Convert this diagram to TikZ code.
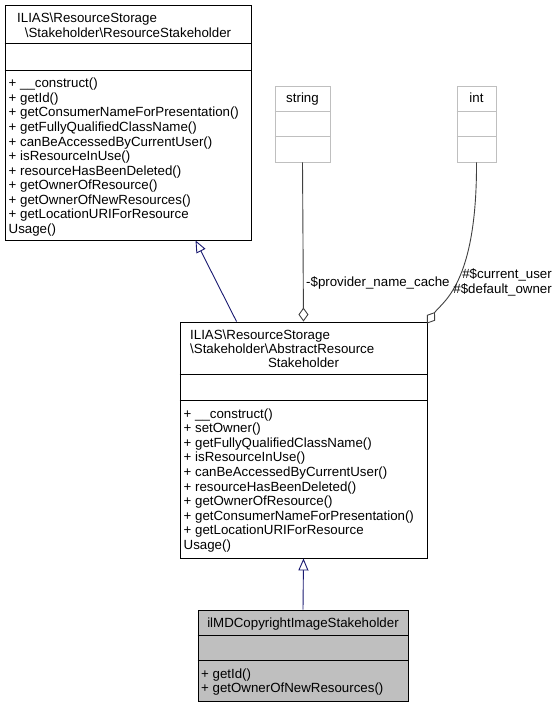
\documentclass[tikz,border=0pt]{standalone}
\usepackage{fontspec}
\setmainfont{Liberation Sans}
\usetikzlibrary{arrows.meta,calc}
\definecolor{navy}{HTML}{191970}
\definecolor{edgegray}{HTML}{404040}
\definecolor{boxgray}{HTML}{BFBFBF}
\definecolor{lightborder}{HTML}{BFBFBF}
\begin{document}
\begin{tikzpicture}[x=1bp,y=-1bp,
  txt/.style={inner sep=0pt, font=\fontsize{13.3bp}{14bp}\selectfont},
  lt/.style={txt, anchor=base west},
  ct/.style={txt, anchor=base},
  rt/.style={txt, anchor=base east},
  cls/.style={draw=black, line width=0.9bp, inner sep=0pt},
  ext/.style={draw=lightborder, line width=0.9bp, inner sep=0pt},
  sec/.style={line width=0.9bp},
  inh/.style={draw=navy, line width=0.9bp, -{Triangle[open, length=12bp, width=10bp, fill=white]}},
  agg/.style={draw=edgegray, line width=0.9bp, -{Diamond[open, length=14bp, width=10bp, fill=white]}}
]
\useasboundingbox (0,0) rectangle (559,707);

% ---- ResourceStakeholder
\node[cls, minimum width=246bp, minimum height=235bp] (b1) at (128,122.5) {};
\draw[sec] ($(b1.north west)+(0,39)$) -- ($(b1.north east)+(0,39)$);
\draw[sec] ($(b1.north west)+(0,66)$) -- ($(b1.north east)+(0,66)$);
\node[lt] (b1t1) at (17,22.8) {ILIAS\textbackslash ResourceStorage};
\node[ct] (b1t2) at (128,37.8) {\textbackslash Stakeholder\textbackslash ResourceStakeholder};
\foreach \t [count=\i from 0] in {+ \_\_construct(), + getId(), + getConsumerNameForPresentation(), + getFullyQualifiedClassName(), + canBeAccessedByCurrentUser(), + isResourceInUse(), + resourceHasBeenDeleted(), + getOwnerOfResource(), + getOwnerOfNewResources(), + getLocationURIForResource, Usage()}
  \node[lt] (b1m\i) at (8.5,88+14.5*\i) {\t};

% ---- string
\node[ext, minimum width=55bp, minimum height=76bp] (str) at (302.5,124) {};
\draw[draw=lightborder, sec] ($(str.north west)+(0,26)$) -- ($(str.north east)+(0,26)$);
\draw[draw=lightborder, sec] ($(str.north west)+(0,51)$) -- ($(str.north east)+(0,51)$);
\node[ct] (strt) at (302.5,102.5) {string};

% ---- int
\node[ext, minimum width=39bp, minimum height=76bp] (int) at (476.5,124) {};
\draw[draw=lightborder, sec] ($(int.north west)+(0,26)$) -- ($(int.north east)+(0,26)$);
\draw[draw=lightborder, sec] ($(int.north west)+(0,51)$) -- ($(int.north east)+(0,51)$);
\node[ct] (intt) at (476.5,102.5) {int};

% ---- AbstractResourceStakeholder
\node[cls, minimum width=247bp, minimum height=236bp] (b2) at (303.5,440) {};
\draw[sec] ($(b2.north west)+(0,53)$) -- ($(b2.north east)+(0,53)$);
\draw[sec] ($(b2.north west)+(0,79)$) -- ($(b2.north east)+(0,79)$);
\node[lt] (b2t1) at (190,339.5) {ILIAS\textbackslash ResourceStorage};
\node[lt] (b2t2) at (190,353.5) {\textbackslash Stakeholder\textbackslash AbstractResource};
\node[ct] (b2t3) at (303.5,367.5) {Stakeholder};
\foreach \t [count=\i from 0] in {+ \_\_construct(), + setOwner(), + getFullyQualifiedClassName(), + isResourceInUse(), + canBeAccessedByCurrentUser(), + resourceHasBeenDeleted(), + getOwnerOfResource(), + getConsumerNameForPresentation(), + getLocationURIForResource, Usage()}
  \node[lt] (b2m\i) at (183.5,418+14.6*\i) {\t};

% ---- ilMDCopyrightImageStakeholder
\node[cls, fill=boxgray, minimum width=210bp, minimum height=91bp] (b3) at (303,655.5) {};
\draw[sec] ($(b3.north west)+(0,26)$) -- ($(b3.north east)+(0,26)$);
\draw[sec] ($(b3.north west)+(0,51)$) -- ($(b3.north east)+(0,51)$);
\node[ct] (b3t) at (303,627) {ilMDCopyrightImageStakeholder};
\node[lt] (b3m0) at (201,678.5) {+ getId()};
\node[lt] (b3m1) at (201,692.5) {+ getOwnerOfNewResources()};

% ---- connectors
\coordinate (e1s) at ($(b2.north west)+(57,0)$);
\coordinate (e1e) at ($(b1.south west)+(191,0)$);
\draw[inh] (e1s) -- (e1e);
\draw[inh] (b3.north) -- (b2.south);
\draw[agg] (str.south) -- (b2.north);
\coordinate (e4e) at ($(b2.north east)+(-0.5,2)$);
\draw[agg] (int.south) .. controls (477,285) and (442,302) .. (e4e);

% ---- labels
\node[lt] (l1) at (306,286.5) {-\$provider\_name\_cache};
\node[rt] (l2) at (552,278.5) {\#\$current\_user};
\node[rt] (l3) at (552,293.5) {\#\$default\_owner};
\end{tikzpicture}
\end{document}
